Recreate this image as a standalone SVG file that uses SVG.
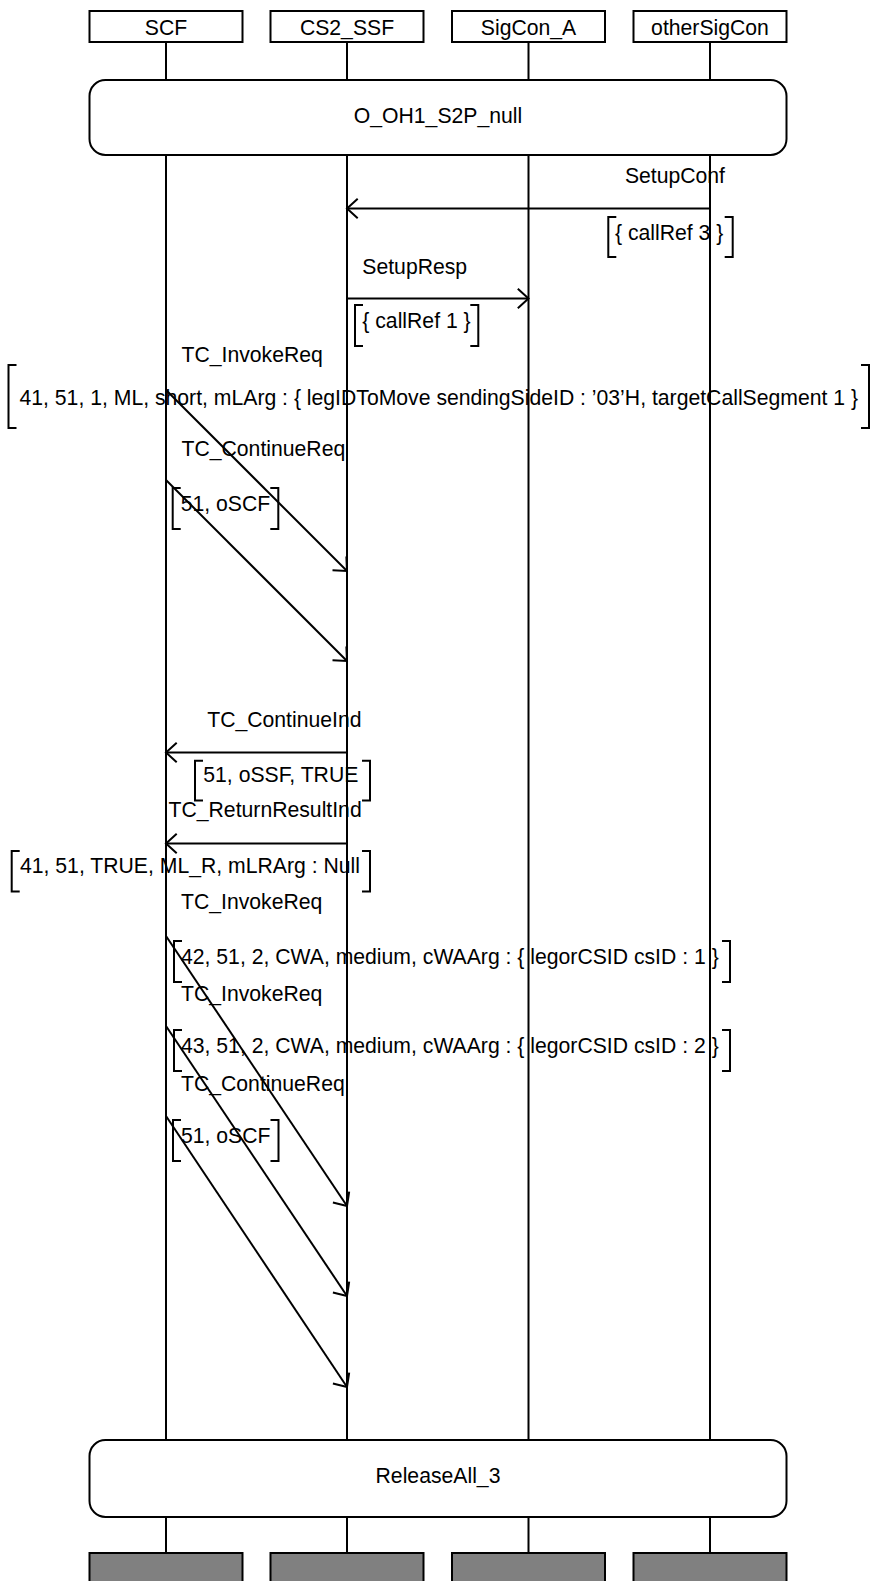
<svg xmlns="http://www.w3.org/2000/svg" width="874" height="1581" viewBox="0 0 874 1581">
<defs>
<style>
text{font-family:"Liberation Sans",Arial,sans-serif;font-size:21.2px;fill:#000}
.c{text-anchor:middle}
.e{text-anchor:end}
.ln{stroke:#000;stroke-width:2;fill:none}
.box{stroke:#000;stroke-width:2;fill:#fff}
.end{stroke:#000;stroke-width:2;fill:#808080}
.br{stroke:#000;stroke-width:2;fill:none}
.msg{stroke:#000;stroke-width:2;fill:none;marker-end:url(#ah)}
</style>
<marker id="ah" markerUnits="userSpaceOnUse" orient="auto" refX="0" refY="0" viewBox="-13 -12 15 24" markerWidth="15" markerHeight="24" overflow="visible">
<path d="M-10.7,-9.8 L0,0 L-10.7,9.8" fill="none" stroke="#000" stroke-width="2"/>
</marker>
</defs>
<rect width="874" height="1581" fill="#fff"/>

<g id="SCF">
<line class="ln" x1="166" y1="42" x2="166" y2="1553"/>
<rect class="box" x="89.5" y="11" width="153" height="31"/>
<text class="c" x="166" y="34.5">SCF</text>
<rect class="end" x="89.5" y="1553" width="153" height="40"/>
</g>
<g id="CS2_SSF">
<line class="ln" x1="347" y1="42" x2="347" y2="1553"/>
<rect class="box" x="270.5" y="11" width="153" height="31"/>
<text class="c" x="347" y="34.5">CS2_SSF</text>
<rect class="end" x="270.5" y="1553" width="153" height="40"/>
</g>
<g id="SigCon_A">
<line class="ln" x1="528.5" y1="42" x2="528.5" y2="1553"/>
<rect class="box" x="452" y="11" width="153" height="31"/>
<text class="c" x="528.5" y="34.5">SigCon_A</text>
<rect class="end" x="452" y="1553" width="153" height="40"/>
</g>
<g id="otherSigCon">
<line class="ln" x1="710" y1="42" x2="710" y2="1553"/>
<rect class="box" x="633.5" y="11" width="153" height="31"/>
<text class="c" x="710" y="34.5">otherSigCon</text>
<rect class="end" x="633.5" y="1553" width="153" height="40"/>
</g>

<g id="O_OH1_S2P_null">
<rect class="box" x="89.5" y="80" width="697" height="75" rx="16" ry="16"/>
<text class="c" x="438" y="123">O_OH1_S2P_null</text>
</g>
<g id="ReleaseAll_3">
<rect class="box" x="89.5" y="1440" width="697" height="77" rx="16" ry="16"/>
<text class="c" x="438" y="1483">ReleaseAll_3</text>
</g>

<g id="connectors">
<line class="msg" x1="710" y1="208.5" x2="347" y2="208.5"/>
<line class="msg" x1="347" y1="298.5" x2="528.5" y2="298.5"/>
<line class="msg" x1="166" y1="390" x2="347" y2="571"/>
<line class="msg" x1="166" y1="480" x2="347" y2="661"/>
<line class="msg" x1="347" y1="752.5" x2="166" y2="752.5"/>
<line class="msg" x1="347" y1="843.5" x2="166" y2="843.5"/>
<line class="msg" x1="166" y1="936" x2="347" y2="1206"/>
<line class="msg" x1="166" y1="1026" x2="347" y2="1296"/>
<line class="msg" x1="166" y1="1116" x2="347" y2="1387"/>
</g>

<g id="labels">
<text class="e" x="725" y="183">SetupConf</text>
<path class="br" d="M616.3,217 H608.3 V257 H616.3 M724.7,217 H732.7 V257 H724.7"/>
<text x="615" y="240">{ callRef 3 }</text>

<text x="362.3" y="274">SetupResp</text>
<path class="br" d="M363,305 H355 V346 H363 M470.3,305 H478.3 V346 H470.3"/>
<text x="362.3" y="328">{ callRef 1 }</text>

<text x="181.5" y="362">TC_InvokeReq</text>
<path class="br" d="M16.5,365 H8.5 V428 H16.5 M861,365 H869 V428 H861"/>
<text x="19.5" y="405">41, 51, 1, ML, short, mLArg : { legIDToMove sendingSideID : ’03’H, targetCallSegment 1 }</text>

<text x="181.5" y="456">TC_ContinueReq</text>
<path class="br" d="M180.7,488 H172.7 V529 H180.7 M270.3,488 H278.3 V529 H270.3"/>
<text x="180.7" y="510.7">51, oSCF</text>

<text class="e" x="361.5" y="727">TC_ContinueInd</text>
<path class="br" d="M203,760.7 H195 V800.5 H203 M362,760.7 H370 V800.5 H362"/>
<text x="203.3" y="782">51, oSSF, TRUE</text>

<text class="e" x="361.7" y="817">TC_ReturnResultInd</text>
<path class="br" d="M19.7,851 H11.7 V891.5 H19.7 M362,851 H370 V891.5 H362"/>
<text x="20" y="873">41, 51, TRUE, ML_R, mLRArg : Null</text>

<text x="181" y="909">TC_InvokeReq</text>
<path class="br" d="M182,941 H174 V982 H182 M722,941 H730 V982 H722"/>
<text x="181" y="964">42, 51, 2, CWA, medium, cWAArg : { legorCSID csID : 1 }</text>

<text x="181" y="1000.5">TC_InvokeReq</text>
<path class="br" d="M182,1030 H174 V1071 H182 M722,1030 H730 V1071 H722"/>
<text x="181" y="1053">43, 51, 2, CWA, medium, cWAArg : { legorCSID csID : 2 }</text>

<text x="181" y="1091">TC_ContinueReq</text>
<path class="br" d="M181,1120 H173 V1161 H181 M270.5,1120 H278.5 V1161 H270.5"/>
<text x="181" y="1143">51, oSCF</text>
</g>
</svg>
